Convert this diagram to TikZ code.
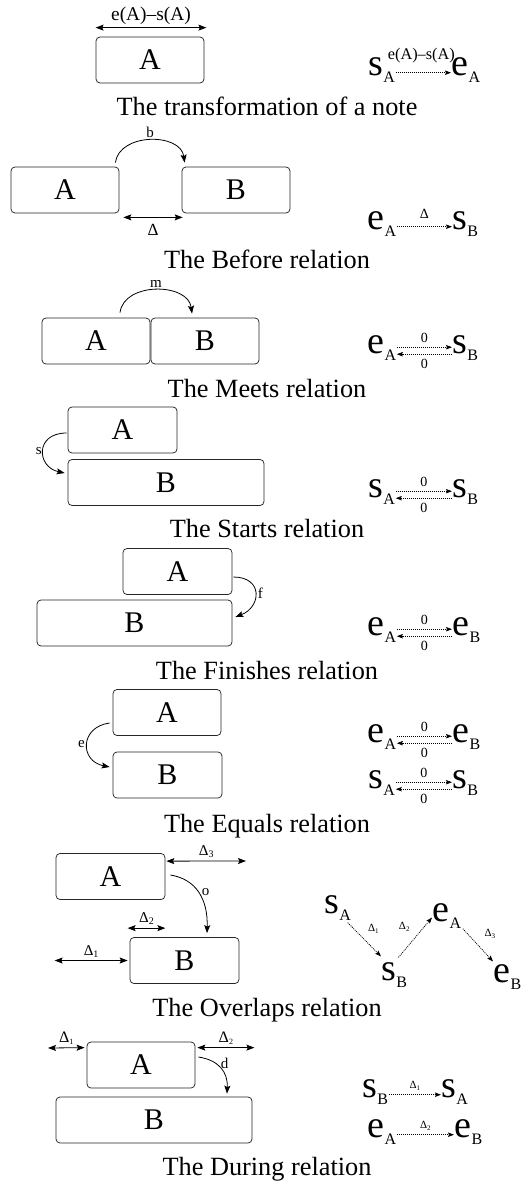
\documentclass[tikz,border=0pt]{standalone}
\usepackage{fontspec}
\setmainfont{Liberation Serif}
\usetikzlibrary{arrows.meta,calc}

% event symbol with a lowered subscript, e.g. s_A
\newcommand\evsym[2]{#1\raisebox{-7pt}{\fontsize{16}{16}\selectfont #2}}
% Delta with a small lowered index
\newcommand\dlab[3]{{\fontsize{#1}{#1}\selectfont Δ}\raisebox{-2pt}{\fontsize{#2}{#2}\selectfont #3}}

\tikzset{
  ttip/.tip={Stealth[length=8pt,width=6pt,inset=1.5pt]},
  dtip/.tip={Stealth[length=6pt,width=4.4pt,inset=1pt]},
  box/.style={draw=black!85, rounded corners=4pt, line width=0.75pt,
    minimum height=46pt, inner sep=0pt, font=\fontsize{30}{30}\selectfont},
  dimarr/.style={ttip-ttip, line width=0.8pt},
  relarr/.style={-ttip, line width=0.8pt},
  dotarr/.style={-dtip, line width=0.75pt, dash pattern=on 1pt off 1pt},
  ev/.style={anchor=base west, inner sep=0.5pt, font=\fontsize{38}{38}\selectfont},
  captxt/.style={anchor=base, inner sep=0pt, font=\fontsize{26.3}{26.3}\selectfont},
  rlab/.style={inner sep=0pt, font=\fontsize{15}{15}\selectfont},
  zero/.style={inner sep=0pt, font=\fontsize{14}{14}\selectfont},
}

\begin{document}
\begin{tikzpicture}[x=1pt,y=-1pt]
\useasboundingbox[fill=white] (0,0) rectangle (522,1184);

% ---------- transformation of a note ----------
\node[box, minimum width=108pt] (A1) at (150,60) {A};
\draw[dimarr] ([shift={(0,-9)}]A1.north west) --
  node[above=3pt, inner sep=0pt, font=\fontsize{19.4}{19.4}\selectfont] {e(A)–s(A)}
  ([shift={(2,-9)}]A1.north east);
\node[ev] (s1) at (368,75) {\evsym{s}{A}};
\node[ev] (e1) at (451,75) {\evsym{e}{A}};
\draw[dotarr] (s1.mid east) --
  node[above=9pt, xshift=-2pt, inner sep=0pt, font=\fontsize{16.3}{16.3}\selectfont] {e(A)–s(A)}
  (e1.mid west);
\node[captxt] (c1) at (267,115) {The transformation of a note};

% ---------- before ----------
\node[box, minimum width=108pt] (A2) at (65,190) {A};
\node[box, minimum width=108pt] (B2) at (236,190) {B};
\draw[relarr] ([shift={(-4,-4)}]A2.north east) .. controls +(4,-30) and +(-4,-30) ..
  node[above=2pt, rlab] {b} ([shift={(3,-4)}]B2.north west);
\draw[dimarr] ([shift={(4,4)}]A2.south east) --
  node[below=6pt, inner sep=0pt, font=\fontsize{17}{17}\selectfont] {Δ}
  ([shift={(1,4)}]B2.south west);
\node[ev] (e2) at (367,229) {\evsym{e}{A}};
\node[ev] (s2) at (452,229) {\evsym{s}{B}};
\draw[dotarr] (e2.mid east) --
  node[above=8pt, inner sep=0pt, font=\fontsize{14}{14}\selectfont] {Δ} (s2.mid west);
\node[captxt] (c2) at (267,268) {The Before relation};

% ---------- meets ----------
\node[box, minimum width=108pt] (A3) at (96,341) {A};
\node[box, minimum width=108pt] (B3) at (205,341) {B};
\draw[relarr] ([shift={(24,-5)}]A3.north) .. controls +(4,-31) and +(-4,-31) ..
  node[above=2pt, rlab] {m} ([shift={(-13,-4)}]B3.north);
\node[ev] (e3) at (367,353) {\evsym{e}{A}};
\node[ev] (s3) at (452,353) {\evsym{s}{B}};
\draw[dotarr] ([yshift=3.5pt]e3.mid east) -- node[above=4pt, zero] {0} ([yshift=3.5pt]s3.mid west);
\draw[dotarr] ([yshift=-3.5pt]s3.mid west) -- node[below=5pt, zero] {0} ([yshift=-3.5pt]e3.mid east);
\node[captxt] (c3) at (267,397) {The Meets relation};

% ---------- starts ----------
\node[box, minimum width=109pt] (A4) at (122.5,430) {A};
\node[box, minimum width=196pt] (B4) at (166,482.5) {B};
\draw[relarr] ([shift={(-1,3)}]A4.west) .. controls +(-32,0) and +(-28,-6) ..
  node[left=1pt, rlab] {s} ([shift={(-3,-9.5)}]B4.west);
\node[ev] (s4) at (368,497) {\evsym{s}{A}};
\node[ev] (s4b) at (452,497) {\evsym{s}{B}};
\draw[dotarr] ([yshift=3.5pt]s4.mid east) -- node[above=4pt, zero] {0} ([yshift=3.5pt]s4b.mid west);
\draw[dotarr] ([yshift=-3.5pt]s4b.mid west) -- node[below=5pt, zero] {0} ([yshift=-3.5pt]s4.mid east);
\node[captxt] (c4) at (267,537) {The Starts relation};

% ---------- finishes ----------
\node[box, minimum width=109pt] (A5) at (177.5,571.5) {A};
\node[box, minimum width=195pt] (B5) at (134.5,623) {B};
\draw[relarr] ([shift={(1,5.5)}]A5.east) .. controls +(30,0) and +(26,-10) ..
  node[right=2pt, rlab] {f} ([shift={(3,-6)}]B5.east);
\node[ev] (e5) at (367,635) {\evsym{e}{A}};
\node[ev] (e5b) at (452,635) {\evsym{e}{B}};
\draw[dotarr] ([yshift=3.5pt]e5.mid east) -- node[above=4pt, zero] {0} ([yshift=3.5pt]e5b.mid west);
\draw[dotarr] ([yshift=-3.5pt]e5b.mid west) -- node[below=5pt, zero] {0} ([yshift=-3.5pt]e5.mid east);
\node[captxt] (c5) at (267,679) {The Finishes relation};

% ---------- equals ----------
\node[box, minimum width=108pt] (A6) at (167,712.5) {A};
\node[box, minimum width=109pt] (B6) at (167.5,775) {B};
\draw[relarr] ([shift={(-3,10.5)}]A6.west) .. controls +(-30,4) and +(-30,-6) ..
  node[left=2pt, rlab] {e} ([shift={(-3,-8)}]B6.west);
\node[ev] (e6) at (367,742) {\evsym{e}{A}};
\node[ev] (e6b) at (452,742) {\evsym{e}{B}};
\draw[dotarr] ([yshift=3.5pt]e6.mid east) -- node[above=4pt, zero] {0} ([yshift=3.5pt]e6b.mid west);
\draw[dotarr] ([yshift=-3.5pt]e6b.mid west) -- node[below=5pt, zero] {0} ([yshift=-3.5pt]e6.mid east);
\node[ev] (s6) at (368,788) {\evsym{s}{A}};
\node[ev] (s6b) at (452,788) {\evsym{s}{B}};
\draw[dotarr] ([yshift=3.5pt]s6.mid east) -- node[above=4pt, zero] {0} ([yshift=3.5pt]s6b.mid west);
\draw[dotarr] ([yshift=-3.5pt]s6b.mid west) -- node[below=5pt, zero] {0} ([yshift=-3.5pt]s6.mid east);
\node[captxt] (c6) at (267,832) {The Equals relation};

% ---------- overlaps ----------
\node[box, minimum width=109pt] (A7) at (110.5,876.5) {A};
\node[box, minimum width=109pt] (B7) at (184.5,960.5) {B};
\coordinate (d3r) at (246,861);
\draw[dimarr] ([shift={(1,8)}]A7.north east) -- node[above=3pt, rlab] {\dlab{15}{10}{3}} (d3r);
\draw[relarr] ([shift={(5,-1.5)}]A7.east) .. controls +(25,4) and +(1,-35) ..
  node[pos=0.5, right=3pt, rlab] {o} ([shift={(22.5,-4)}]B7.north);
\coordinate (d2l) at ([shift={(-2,-9)}]B7.north west);
\draw[dimarr] (d2l) -- node[above=3pt, rlab] {\dlab{15}{10}{2}} (d2l -| A7.east);
\draw[dimarr] ([xshift=-1pt]A7.west |- B7.west) -- node[above=3pt, rlab] {\dlab{15}{10}{1}} ([xshift=-2pt]B7.west);
\node[ev] (sA7) at (324,913) {\evsym{s}{A}};
\node[ev] (sB7) at (381,980) {\evsym{s}{B}};
\node[ev] (eA7) at (432,921) {\evsym{e}{A}};
\node[ev] (eB7) at (493,982) {\evsym{e}{B}};
\draw[dotarr] ([shift={(-4,2)}]sA7.south east) --
  node[midway, xshift=9pt, yshift=11pt, inner sep=0pt] {\dlab{11}{7}{1}}
  ([shift={(0,-5)}]sB7.north west);
\draw[dotarr] ([shift={(4,-4)}]sB7.north) --
  node[midway, xshift=-11pt, yshift=11pt, inner sep=0pt] {\dlab{11}{7}{2}}
  ([shift={(0,2)}]eA7.west);
\draw[dotarr] ([shift={(1,0)}]eA7.south east) --
  node[midway, xshift=12pt, yshift=11pt, inner sep=0pt] {\dlab{11}{7}{3}}
  ([shift={(0,-2)}]eB7.north west);
\node[captxt] (c7) at (267,1016) {The Overlaps relation};

% ---------- during ----------
\node[box, minimum width=108pt] (A8) at (141,1065) {A};
\node[box, minimum width=196pt] (B8) at (154,1120) {B};
\coordinate (d1l) at (48,1048);
\draw[dimarr] (d1l) -- node[above=3pt, rlab] {\dlab{16}{8}{1}} ([shift={(-2,6)}]A8.north west);
\draw[dimarr] ([shift={(2,6)}]A8.north east) -- node[above=3pt, rlab] {\dlab{16}{8}{2}}
  ([shift={(2,6)}]A8.north east -| B8.east);
\draw[relarr] ([shift={(3,-8)}]A8.east) .. controls +(20,3) and +(1,-22) ..
  node[pos=0.35, right=5pt, rlab] {d} ([shift={(73,-3)}]B8.north);
\node[ev] (sB8) at (362,1097) {\evsym{s}{B}};
\node[ev] (sA8) at (441,1097) {\evsym{s}{A}};
\draw[dotarr] (sB8.mid east) -- node[above=4pt, inner sep=0pt] {\dlab{11}{7}{1}} (sA8.mid west);
\node[ev] (eA8) at (367,1137) {\evsym{e}{A}};
\node[ev] (eB8) at (454,1137) {\evsym{e}{B}};
\draw[dotarr] (eA8.mid east) -- node[above=4pt, inner sep=0pt] {\dlab{11}{7}{2}} (eB8.mid west);
\node[captxt] (c8) at (267,1175) {The During relation};
\end{tikzpicture}
\end{document}
